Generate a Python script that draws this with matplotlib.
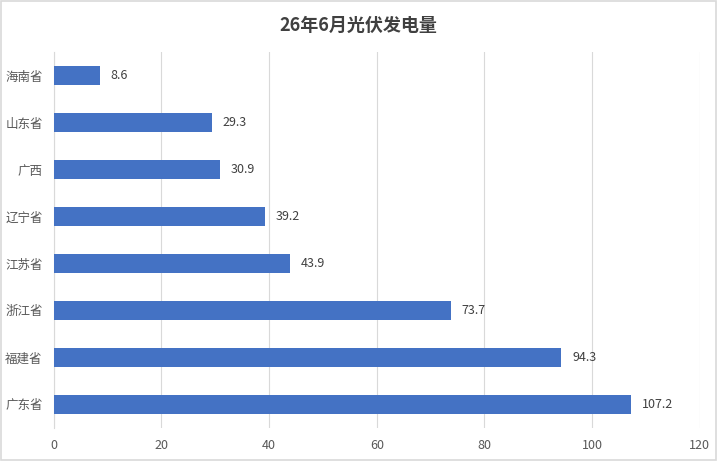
import matplotlib
matplotlib.use("Agg")
import matplotlib.pyplot as plt
from matplotlib.patches import Rectangle

plt.rcParams['font.family'] = ['Noto Sans CJK SC', 'DejaVu Sans']

# 数据
provinces = ["海南省", "山东省", "广西", "辽宁省", "江苏省", "浙江省", "福建省", "广东省"]
values = [8.6, 29.3, 30.9, 39.2, 43.9, 73.7, 94.3, 107.2]
x_ticks = [0, 20, 40, 60, 80, 100, 120]

fig = plt.figure(figsize=(7.17, 4.61), dpi=100)
ax = fig.add_axes([0.075, 0.072, 0.901, 0.815])

pos = list(range(len(provinces)))
ax.barh(pos, values, height=0.4, color="#4472C4", zorder=3)
ax.set_ylim(len(provinces) - 0.5, -0.5)
ax.set_yticks(pos)
ax.set_yticklabels(provinces, fontsize=9, color="#595959")

for p, v in zip(pos, values):
    ax.text(v + 2, p, f"{v}", va="center", ha="left", fontsize=9, color="#404040")

ax.set_xlim(0, 120)
ax.set_xticks(x_ticks)
ax.set_xticklabels([str(t) for t in x_ticks], fontsize=9, color="#595959")
ax.grid(axis="x", color="#D9D9D9", linewidth=0.8, zorder=0)
ax.tick_params(length=0, pad=8)
for s in ["top", "right", "bottom"]:
    ax.spines[s].set_visible(False)
ax.spines["left"].set_color("#D9D9D9")

fig.suptitle("26年6月光伏发电量", y=0.965, fontsize=13, fontweight="bold", color="#404040")

# 外框
fig.patches.append(Rectangle((0.002, 0.003), 0.996, 0.994, transform=fig.transFigure,
                             fill=False, edgecolor="#D9D9D9", linewidth=1.2))

fig.savefig("out.png", dpi=100)
